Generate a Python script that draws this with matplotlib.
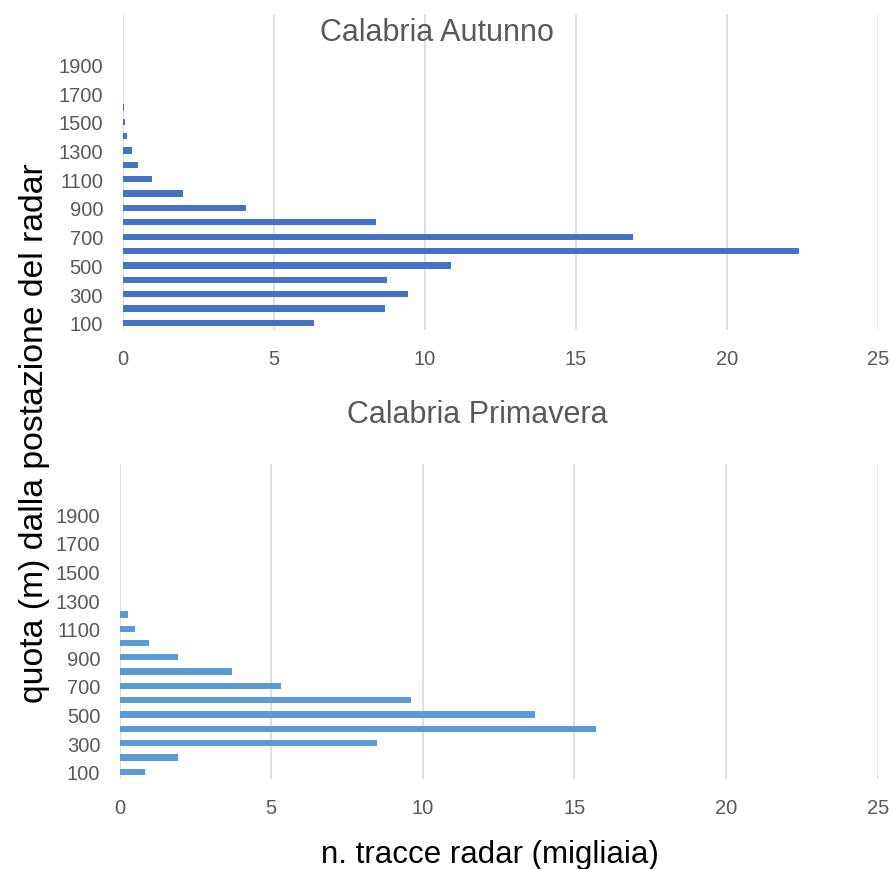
import matplotlib.pyplot as plt

# altitude classes (m) and radar track counts (thousands)
quote = [100, 200, 300, 400, 500, 600, 700, 800, 900, 1000,
         1100, 1200, 1300, 1400, 1500, 1600]
autunno = [6.35, 8.67, 9.45, 8.75, 10.88, 22.38, 16.88, 8.39, 4.07, 2.01,
           0.97, 0.50, 0.30, 0.15, 0.07, 0.04]

quote_prim = [100, 200, 300, 400, 500, 600, 700, 800, 900, 1000, 1100, 1200]
primavera = [0.83, 1.93, 8.48, 15.72, 13.70, 9.62, 5.33, 3.72, 1.92, 0.97, 0.50, 0.26]

y_ticks = list(range(100, 2000, 200))
x_ticks = [0, 5, 10, 15, 20, 25]

plt.rcParams['font.family'] = ['Liberation Sans', 'DejaVu Sans']

fig = plt.figure(figsize=(8.93, 8.70), dpi=100)
ax1 = fig.add_axes([0.1372, 0.6195, 0.846, 0.3632])
ax2 = fig.add_axes([0.1340, 0.1034, 0.8488, 0.3621])

def style(ax):
    ax.set_xlim(0, 25)
    ax.set_ylim(50, 2250)
    ax.set_xticks(x_ticks)
    ax.set_yticks(y_ticks)
    ax.grid(axis='x', color='#D9D9D9', linewidth=1.2)
    ax.set_axisbelow(True)
    for s in ax.spines.values():
        s.set_visible(False)
    ax.tick_params(length=0, labelsize=14.5, labelcolor='#595959')
    ax.tick_params(axis='x', pad=14)
    ax.tick_params(axis='y', pad=14)

ax1.barh(quote, autunno, height=44, color='#4472C4')
style(ax1)
ax2.barh(quote_prim, primavera, height=44, color='#5B9BD5')
style(ax2)

fig.text(437 / 893, 1 - 33 / 870, 'Calabria Autunno', ha='center', va='center',
         fontsize=22, color='#595959')
fig.text(477 / 893, 1 - 415 / 870, 'Calabria Primavera', ha='center', va='center',
         fontsize=22, color='#595959')
fig.text(35 / 893, 1 - 433 / 870, 'quota (m) dalla postazione del radar', rotation=90,
         ha='center', va='center', fontsize=24.3, color='#000000')
fig.text(490 / 893, 1 - 855 / 870, 'n. tracce radar (migliaia)', ha='center', va='center',
         fontsize=22.5, color='#000000')

fig.savefig('out.png', dpi=100)
